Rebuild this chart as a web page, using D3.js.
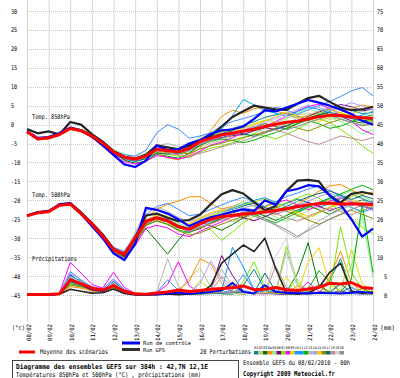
<!DOCTYPE html>
<html><head><meta charset="utf-8">
<script src="https://cdn.jsdelivr.net/npm/d3@7"></script>
<style>body{margin:0;background:#fff}svg{display:block}text{font-family:"DejaVu Sans Mono",monospace;fill:#000}</style>
</head><body><svg id="c" width="400" height="378"></svg>
<script>
const hours=[0,12,24,36,48,60,72,84,96,108,120,132,144,156,168,180,192,204,216,228,240,252,264,276,288,300,312,324,336,348,360,372,384];
const dates=["08/02","09/02","10/02","11/02","12/02","13/02","14/02","15/02","16/02","17/02","18/02","19/02","20/02","21/02","22/02","23/02","24/02"];
const leftTicks=[30,25,20,15,10,5,0,-5,-10,-15,-20,-25,-30,-35,-40,-45];
const rightTicks=[75,70,65,60,55,50,45,40,35,30,25,20,15,10,5,0];
const memberNames=["01","02","03","04","05","06","07","08","09","10","11","12","13","14","15","16","17","18","19","20"];
const memberColors=["#008c8c","#c8c878","#007800","#ff8c00","#90ee90","#800080","#78e600","#ff00ff","#c8e600","#3c8cff","#00a0ff","#00b400","#b4b4b4","#a0a0ff","#ffc800","#8c8c00","#006e6e","#c08c8c","#d4d4d4","#8c8ca0"];

const t850Mean=[-1.9,-3.8,-3.5,-2.6,-1.0,-1.6,-3.0,-4.9,-7.2,-8.6,-9.1,-8.3,-6.5,-6.9,-7.2,-6.3,-4.5,-3.6,-2.7,-2.3,-1.7,-1.2,-0.5,0.1,0.6,0.9,1.5,2.1,2.5,2.4,2.0,1.8,1.7];
const t850Ctrl=[-1.8,-3.5,-3.3,-2.2,-0.8,-1.5,-3.2,-5.5,-8.0,-10.5,-11.2,-9.5,-5.5,-6.8,-6.5,-5.0,-4.1,-2.5,-1.5,-1.3,-0.5,1.5,3.8,3.5,4.5,5.5,6.5,5.8,5.0,4.0,2.8,1.0,0.0];
const t850Gfs=[-1.2,-2.3,-1.8,-2.6,0.7,0.0,-2.5,-4.5,-7.0,-8.5,-9.0,-8.0,-5.5,-6.0,-6.5,-5.5,-4.5,-3.0,-0.5,2.0,3.5,5.0,4.5,4.0,3.9,5.5,7.0,7.6,6.0,4.5,3.8,4.0,4.7];
const t850Members=[
[-1.8,-3.6,-3.4,-2.4,-0.8,-1.4,-2.8,-4.6,-7.0,-8.8,-9.6,-8.9,-7.2,-7.5,-6.8,-5.9,-4.0,-3.1,-1.8,-1.0,-0.2,0.8,1.9,2.6,3.1,2.2,1.5,2.8,3.9,4.6,3.8,2.9,3.4],
[-2.0,-3.9,-3.7,-2.9,-1.3,-1.9,-3.3,-5.3,-7.6,-9.0,-9.3,-8.0,-6.0,-6.2,-7.9,-7.4,-5.8,-4.9,-4.1,-3.2,-2.4,-1.8,-0.9,0.4,1.7,2.5,3.0,2.2,1.4,2.0,2.9,3.6,2.8],
[-1.9,-3.7,-3.3,-2.5,-0.9,-1.5,-3.1,-5.0,-7.4,-9.4,-10.2,-9.6,-7.8,-8.4,-8.9,-7.6,-5.5,-4.2,-3.5,-2.8,-1.6,-0.4,0.3,-0.5,-1.2,0.2,1.3,2.4,3.2,2.1,1.0,0.4,1.2],
[-2.1,-4.0,-3.8,-2.8,-1.2,-1.7,-2.9,-4.7,-6.8,-8.2,-8.9,-8.7,-7.6,-8.8,-9.3,-8.1,-6.3,-1.5,2.2,3.8,3.0,4.2,4.5,3.6,2.8,1.7,2.3,3.5,4.1,3.2,4.3,5.2,4.6],
[-1.7,-3.6,-3.2,-2.3,-0.7,-1.2,-2.6,-4.4,-6.6,-7.8,-8.4,-7.5,-5.8,-6.0,-6.4,-5.2,-3.3,-2.0,-1.5,-2.2,-3.0,-2.3,-1.0,0.5,1.6,3.0,4.2,3.1,1.8,0.9,-0.6,-2.5,-1.4],
[-2.0,-3.9,-3.6,-2.7,-1.1,-1.8,-3.4,-5.4,-7.8,-9.2,-9.5,-8.5,-6.6,-7.0,-6.6,-5.6,-4.3,-3.8,-3.4,-2.9,-2.6,-1.6,-0.8,-1.3,-0.4,1.1,2.1,3.3,4.4,5.3,4.7,3.6,4.1],
[-1.9,-3.8,-3.5,-2.6,-1.0,-1.6,-3.2,-5.2,-7.5,-8.9,-9.4,-8.8,-7.4,-7.9,-8.3,-8.7,-7.3,-6.2,-5.6,-4.8,-3.6,-2.5,-2.9,-3.8,-2.6,-1.2,0.4,1.5,0.6,-1.3,-3.2,-5.6,-7.6],
[-2.1,-4.0,-3.7,-2.8,-1.2,-1.8,-3.3,-5.6,-8.2,-9.8,-10.4,-9.7,-8.2,-8.6,-9.1,-8.4,-7.0,-5.4,-4.6,-3.5,-2.0,-1.3,-0.4,0.8,2.2,3.6,4.8,5.4,4.2,2.6,0.9,-1.4,-2.6],
[-1.8,-3.7,-3.4,-2.5,-0.9,-1.5,-2.9,-4.8,-7.1,-8.5,-9.0,-8.2,-6.4,-6.8,-7.1,-6.2,-4.6,-3.0,-1.9,-1.4,-0.9,0.3,1.2,0.6,-0.2,0.7,1.9,3.0,4.0,3.1,2.4,1.6,0.8],
[-1.8,-3.7,-3.3,-2.4,-0.8,-1.3,-2.7,-4.5,-6.9,-8.0,-8.3,-6.8,-2.2,0.0,-1.2,-3.6,-3.0,-2.2,-0.3,0.8,1.6,2.4,3.4,4.6,3.8,2.7,3.9,5.0,6.1,7.4,8.9,9.8,7.6],
[-2.0,-3.9,-3.6,-2.6,-1.0,-1.7,-3.1,-5.1,-7.4,-9.1,-9.8,-9.0,-7.0,-6.5,-7.2,-6.8,-4.9,-2.9,-1.2,2.4,6.6,5.2,3.7,3.0,2.2,3.4,4.6,4.0,3.1,2.3,1.7,2.5,3.3],
[-1.9,-3.8,-3.6,-2.7,-1.1,-1.7,-3.2,-5.1,-7.3,-8.8,-9.2,-8.4,-6.9,-7.4,-7.8,-7.0,-5.4,-4.4,-3.8,-4.2,-4.8,-4.1,-3.0,-2.1,-0.9,0.3,1.1,0.2,-1.0,-0.4,0.7,1.9,2.6],
[-1.8,-3.7,-3.4,-2.4,-0.9,-1.4,-2.9,-4.7,-6.9,-8.3,-8.8,-7.8,-5.6,-5.0,-5.8,-6.1,-5.0,-4.1,-2.6,-1.2,-0.4,-1.1,-2.0,-1.0,0.4,1.6,2.5,3.6,4.5,3.8,2.8,2.0,1.4],
[-2.0,-3.8,-3.5,-2.6,-1.0,-1.6,-3.0,-4.9,-7.2,-8.7,-9.3,-8.6,-6.8,-7.1,-7.6,-6.9,-5.1,-4.0,-3.1,-2.4,-1.5,-0.6,0.9,1.8,2.9,4.0,5.1,4.5,3.6,4.7,5.8,4.9,3.8],
[-1.9,-3.8,-3.4,-2.5,-0.9,-1.5,-2.9,-4.9,-7.3,-8.9,-9.6,-8.8,-7.1,-7.6,-7.0,-5.7,-3.8,-2.4,-1.6,-1.8,-1.0,-0.1,1.0,2.2,3.3,2.4,1.6,0.8,1.9,3.0,2.1,1.3,0.5],
[-2.0,-3.9,-3.7,-2.8,-1.2,-1.8,-3.2,-5.0,-7.0,-8.4,-8.9,-8.1,-6.4,-6.7,-7.3,-7.7,-6.4,-5.6,-4.9,-4.1,-3.4,-2.7,-1.9,-1.0,-0.2,-0.9,-1.7,-0.6,0.5,1.4,0.6,-0.3,0.2],
[-1.9,-3.7,-3.4,-2.5,-0.9,-1.5,-3.0,-5.0,-7.5,-9.0,-9.6,-9.0,-7.5,-7.8,-7.5,-6.3,-4.2,-3.2,-2.3,-1.7,-2.4,-3.1,-2.2,-1.1,-0.3,0.8,1.7,2.6,3.4,2.5,1.6,0.9,1.5],
[-2.0,-3.9,-3.6,-2.7,-1.1,-1.7,-3.1,-5.0,-7.4,-9.0,-9.4,-8.7,-7.0,-7.4,-8.0,-8.4,-7.6,-6.8,-5.9,-5.1,-4.3,-3.3,-2.1,-1.4,-2.3,-3.4,-4.5,-5.2,-4.1,-3.0,-3.6,-4.2,-3.4],
[-1.9,-3.8,-3.5,-2.5,-0.9,-1.5,-3.0,-4.8,-7.0,-8.3,-8.6,-7.6,-5.9,-6.3,-6.9,-6.4,-4.8,-3.9,-2.9,-2.0,-1.1,-0.3,0.5,1.4,2.3,1.5,0.7,1.8,2.9,3.7,4.5,3.6,2.7],
[-1.9,-3.7,-3.4,-2.6,-1.0,-1.5,-3.1,-5.0,-7.3,-8.7,-9.1,-8.3,-6.5,-6.9,-7.4,-6.7,-5.2,-4.3,-3.6,-2.8,-1.8,-0.8,0.2,-0.6,-1.4,-0.5,0.6,1.4,2.3,1.5,0.6,-0.2,0.9]
];

const t500Mean=[-24.1,-23.3,-23.0,-21.3,-21.0,-23.5,-26.2,-29.4,-33.0,-34.2,-30.0,-25.5,-24.6,-25.4,-27.0,-27.6,-26.2,-25.0,-24.3,-24.0,-23.6,-23.4,-23.1,-22.7,-22.2,-21.7,-21.2,-20.8,-20.7,-21.0,-20.9,-21.0,-21.1];
const t500Ctrl=[-24.0,-23.2,-22.9,-21.0,-20.8,-23.6,-26.8,-30.0,-34.0,-35.8,-31.5,-22.0,-22.5,-23.5,-25.0,-26.8,-25.5,-24.5,-23.8,-23.0,-22.4,-22.8,-20.0,-21.2,-17.6,-17.0,-16.0,-16.3,-18.6,-21.2,-25.0,-29.6,-27.5];
const t500Gfs=[-24.0,-23.1,-22.8,-21.2,-20.7,-23.2,-26.0,-29.0,-32.8,-34.5,-30.0,-24.0,-23.5,-24.6,-25.5,-25.2,-23.8,-21.0,-18.4,-17.3,-18.2,-20.5,-22.6,-21.5,-17.5,-14.8,-14.6,-15.0,-18.8,-20.6,-18.3,-17.8,-18.4];
const t500Members=[
[-24.0,-23.2,-22.9,-21.2,-20.9,-23.4,-26.3,-29.6,-33.4,-34.8,-31.0,-26.0,-23.8,-24.9,-26.8,-27.9,-26.4,-24.7,-23.6,-22.4,-21.9,-22.6,-23.4,-22.0,-20.8,-19.7,-20.6,-21.8,-20.9,-19.6,-18.4,-19.5,-20.8],
[-24.2,-23.4,-23.1,-21.4,-21.1,-23.7,-26.5,-29.8,-33.6,-35.2,-31.8,-26.8,-25.3,-26.1,-27.5,-26.6,-24.9,-23.8,-24.5,-25.6,-24.8,-23.7,-22.5,-21.6,-22.4,-23.3,-22.1,-20.9,-19.8,-20.7,-21.9,-22.8,-21.7],
[-24.1,-23.3,-23.0,-21.3,-21.0,-23.5,-26.1,-29.2,-32.7,-34.0,-30.2,-27.5,-30.8,-34.2,-30.5,-27.3,-25.6,-26.8,-27.9,-26.4,-24.6,-23.2,-24.1,-25.3,-24.0,-22.6,-21.4,-22.5,-23.7,-22.2,-20.8,-19.9,-21.2],
[-24.0,-23.1,-22.8,-21.1,-20.8,-23.3,-26.0,-29.1,-32.5,-33.6,-29.0,-24.5,-22.4,-21.0,-20.2,-19.1,-19.0,-20.8,-22.3,-21.6,-20.4,-21.5,-22.9,-23.8,-22.5,-21.0,-19.4,-17.6,-16.2,-15.8,-17.3,-18.5,-17.8],
[-24.1,-23.2,-22.9,-21.2,-20.9,-23.4,-26.2,-29.4,-33.1,-34.4,-30.4,-25.1,-24.0,-24.7,-26.2,-27.3,-25.8,-24.3,-23.0,-21.8,-20.5,-21.7,-23.0,-24.4,-25.6,-24.2,-22.8,-21.3,-19.8,-18.6,-17.5,-18.9,-20.4],
[-24.2,-23.3,-23.1,-21.4,-21.1,-23.6,-26.4,-29.7,-33.5,-35.0,-31.3,-26.2,-24.8,-25.6,-27.1,-28.3,-27.5,-26.0,-24.8,-23.7,-24.6,-25.4,-24.3,-23.1,-22.0,-21.3,-20.5,-21.6,-22.7,-21.8,-20.7,-21.5,-22.4],
[-24.1,-23.2,-23.0,-21.3,-21.0,-23.5,-26.2,-29.4,-33.0,-34.2,-30.3,-25.4,-24.2,-25.1,-26.5,-27.8,-26.9,-27.8,-30.6,-28.4,-25.9,-24.2,-23.0,-21.9,-20.6,-19.4,-18.3,-19.5,-21.0,-22.6,-24.8,-27.1,-28.9],
[-24.2,-23.4,-23.1,-21.5,-21.2,-23.8,-26.7,-30.0,-33.8,-35.3,-32.0,-27.4,-26.6,-27.3,-28.9,-29.6,-28.2,-26.9,-25.7,-24.3,-23.1,-22.6,-21.7,-20.6,-19.9,-21.2,-22.5,-21.4,-20.2,-19.3,-20.5,-21.8,-20.6],
[-24.0,-23.1,-22.9,-21.2,-20.9,-23.3,-26.0,-29.1,-32.8,-34.1,-30.1,-25.2,-24.1,-24.4,-25.5,-26.6,-25.4,-24.1,-22.9,-22.0,-21.3,-20.4,-19.6,-20.8,-22.1,-23.6,-24.8,-23.4,-21.9,-20.4,-19.1,-17.9,-18.6],
[-24.0,-23.1,-22.8,-21.0,-20.7,-23.1,-25.8,-28.8,-32.4,-33.5,-29.2,-23.8,-21.6,-20.8,-22.4,-24.1,-23.6,-22.4,-21.2,-20.1,-19.2,-20.3,-21.6,-20.4,-19.0,-18.1,-17.0,-16.2,-17.4,-18.9,-20.3,-21.4,-20.1],
[-24.1,-23.2,-23.0,-21.3,-21.0,-23.5,-26.3,-29.5,-33.2,-34.6,-30.7,-25.6,-24.5,-25.3,-26.7,-27.5,-26.0,-24.6,-23.3,-22.1,-21.0,-20.0,-19.3,-20.5,-21.8,-22.9,-21.7,-20.5,-19.4,-20.6,-21.9,-23.1,-22.2],
[-24.2,-23.3,-23.0,-21.4,-21.1,-23.6,-26.4,-29.6,-33.3,-34.7,-31.0,-26.4,-25.5,-26.3,-27.8,-28.6,-27.2,-25.9,-24.7,-23.4,-22.3,-23.6,-24.9,-26.0,-24.6,-23.2,-21.8,-20.6,-19.5,-18.3,-17.1,-16.0,-17.2],
[-24.0,-23.1,-22.9,-21.2,-20.9,-23.3,-26.1,-29.3,-33.0,-34.3,-28.5,-22.8,-21.7,-22.9,-24.5,-25.7,-24.6,-23.6,-22.7,-21.9,-22.8,-23.9,-25.0,-26.7,-28.4,-30.0,-27.5,-25.4,-23.8,-22.5,-21.3,-20.6,-21.5],
[-24.1,-23.2,-22.9,-21.2,-20.9,-23.4,-26.3,-29.5,-33.2,-34.5,-30.6,-25.8,-24.6,-25.5,-27.0,-28.2,-27.0,-25.7,-24.3,-23.1,-22.0,-21.2,-22.4,-23.6,-22.7,-21.5,-20.2,-19.0,-18.1,-19.2,-20.4,-21.6,-22.7],
[-24.0,-23.2,-22.9,-21.2,-20.9,-23.4,-26.2,-29.4,-33.1,-34.4,-30.5,-25.5,-23.9,-24.2,-25.6,-26.2,-24.7,-23.2,-22.5,-23.4,-24.3,-23.0,-21.8,-20.7,-21.9,-23.1,-24.2,-23.0,-21.8,-20.9,-19.8,-20.9,-22.0],
[-24.2,-23.3,-23.1,-21.4,-21.1,-23.7,-26.5,-29.8,-33.6,-35.1,-31.4,-26.6,-25.4,-26.4,-28.0,-29.2,-28.6,-27.4,-26.3,-25.2,-24.2,-23.3,-22.5,-21.8,-22.9,-24.0,-25.2,-26.3,-25.0,-23.8,-22.6,-23.7,-24.8],
[-24.1,-23.2,-23.0,-21.3,-21.0,-23.5,-26.3,-29.5,-33.1,-34.4,-30.4,-25.3,-24.4,-25.2,-26.6,-27.6,-26.2,-24.9,-23.7,-22.6,-21.5,-20.7,-21.9,-22.8,-21.6,-20.3,-19.1,-18.2,-17.5,-18.6,-19.8,-18.7,-19.6],
[-24.1,-23.3,-23.0,-21.3,-21.0,-23.5,-26.3,-29.6,-33.3,-34.7,-30.9,-26.1,-25.0,-25.8,-27.2,-28.1,-27.1,-26.2,-25.2,-24.5,-23.9,-23.2,-22.4,-23.5,-24.6,-25.5,-24.3,-23.1,-22.0,-22.9,-23.8,-22.7,-21.6],
[-24.0,-23.1,-22.9,-21.2,-20.9,-23.3,-26.1,-29.2,-32.9,-34.2,-30.2,-25.4,-24.2,-24.8,-26.0,-26.9,-25.6,-24.4,-23.4,-22.6,-21.8,-22.7,-23.6,-22.4,-21.3,-20.2,-21.1,-22.0,-23.0,-22.0,-21.0,-20.1,-21.0],
[-24.1,-23.2,-23.0,-21.3,-21.0,-23.5,-26.3,-29.5,-33.2,-34.5,-30.6,-25.7,-24.5,-25.3,-26.8,-27.7,-26.5,-25.4,-24.6,-23.8,-23.1,-24.2,-25.3,-26.4,-27.8,-29.5,-28.0,-26.5,-24.9,-23.6,-22.4,-21.3,-22.1]
];

const precipMean=[0.1,0.1,0.1,0.3,4.0,3.0,1.8,1.3,2.5,1.0,0.3,0.2,0.5,0.8,1.3,0.9,1.2,1.5,1.7,1.9,2.4,1.4,1.5,2.0,1.4,1.2,1.6,2.0,3.1,2.9,3.3,2.0,1.7];
const precipCtrl=[0,0,0,0.3,3.8,2.8,1.5,1.0,2.5,0.8,0.2,0.1,0.2,0.4,0.6,0.3,0.5,0.8,1.2,3.2,0.8,0.4,2.6,0.8,0.6,0.5,0.4,0.6,0.5,0.4,0.6,0.8,0.5];
const precipGfs=[0,0,0,0.2,1.5,1.0,0.5,0.6,1.6,0.4,0,0,0.1,0.3,0.1,0.3,0.5,2.5,8.4,10.8,13.2,11.5,15.0,7.0,0.5,0.2,0.5,2.0,6.0,8.4,1.0,0.5,0.8];
const precipMembers=[
[0,0,0,0.3,3.5,2.4,1.2,0.8,2.0,0.6,0.1,0,0.2,0.4,0.3,0.1,0.5,0.8,0.3,0.2,2.5,6.8,1.4,0.3,0.2,0.4,1.0,0.5,3.8,9.6,1.2,0.4,0.6],
[0,0,0,0.2,2.8,2.0,1.6,1.0,2.4,0.8,0.2,0.1,0.1,0.2,0.8,4.5,7.2,2.0,0.4,0.3,0.2,0.6,0.4,0.3,1.5,0.6,0.2,0.3,0.8,0.5,2.2,0.8,0.3],
[0,0,0,0.4,4.6,3.8,2.0,1.4,3.0,1.2,0.3,0.2,0.5,1.0,0.6,0.3,0.2,0.4,1.2,2.6,0.8,0.3,0.5,0.4,0.9,5.6,13.8,2.4,0.6,0.4,0.3,1.8,0.5],
[0,0,0,0.1,2.2,1.8,1.0,0.7,1.6,0.5,0.1,0,0.1,0.2,1.4,3.6,9.5,8.2,3.1,1.0,0.6,0.4,0.3,0.7,0.5,2.4,1.2,0.5,4.5,11.6,3.2,0.8,0.4],
[0,0,0,0.2,3.2,2.6,1.8,1.2,2.8,1.0,0.4,0.2,0.3,0.6,0.4,0.2,0.3,0.5,0.8,0.6,0.4,0.3,1.9,0.6,0.8,4.2,1.0,0.3,0.5,2.8,7.5,21.0,4.6],
[0,0,0,0.3,5.4,3.2,1.8,1.0,3.6,1.4,0.2,0.1,0.2,0.3,0.5,0.4,0.6,1.2,10.4,5.2,1.0,0.5,0.4,0.3,0.2,0.5,0.8,0.4,0.6,1.0,0.5,0.3,0.2],
[0,0,0,0.2,3.6,2.9,1.5,1.1,2.6,0.9,0.3,0.1,0.2,0.4,0.6,0.5,0.8,0.6,0.4,0.5,3.5,8.8,2.0,0.6,13.0,3.4,0.8,0.6,1.2,18.0,6.0,1.4,0.8],
[0,0,0,0.5,8.6,5.8,2.8,1.8,6.0,2.0,0.4,0.3,0.6,2.8,8.8,2.4,0.7,0.5,0.6,0.9,0.7,0.4,0.3,0.6,0.8,0.6,3.4,0.9,0.5,0.4,0.6,0.5,0.3],
[0,0,0,0.3,4.0,3.0,1.6,1.2,2.8,1.0,0.3,0.2,0.4,0.5,0.3,0.2,3.8,1.2,0.5,0.4,0.3,0.6,0.5,1.0,4.6,1.4,0.6,0.4,0.3,0.5,12.0,3.0,0.9],
[0,0,0,0.4,6.2,4.0,2.2,1.6,4.2,1.5,0.4,0.3,0.7,4.0,1.2,0.5,0.4,0.3,0.6,1.4,5.4,1.5,0.6,1.0,1.8,0.5,0.3,0.6,0.4,0.8,2.0,0.5,0.4],
[0,0,0,0.3,5.0,3.6,2.0,1.3,3.4,1.3,0.3,0.2,0.4,0.6,0.4,0.3,0.5,0.7,1.0,12.6,7.4,1.5,0.6,0.4,0.5,1.5,0.6,0.4,0.3,0.6,0.4,0.2,0.3],
[0,0,0,0.2,3.0,2.4,1.4,1.0,2.2,0.8,0.2,0.1,0.2,0.3,0.4,0.3,0.4,0.6,0.5,0.7,0.6,0.5,0.8,0.6,0.4,0.7,1.6,6.4,3.6,0.8,4.2,24.0,6.0],
[0,0,0,0.3,4.2,3.4,1.8,1.2,3.2,1.2,0.3,0.2,0.8,9.6,2.2,0.5,0.6,1.6,6.8,2.4,0.8,0.6,0.4,0.5,11.5,2.8,0.6,0.5,0.4,0.3,0.6,0.4,0.3],
[0,0,0,0.4,5.8,3.9,2.2,1.5,4.0,1.3,0.3,0.2,0.3,0.5,0.7,0.6,3.0,9.0,4.2,1.0,0.6,0.4,0.5,0.3,0.6,0.5,0.3,0.5,0.8,0.6,0.4,0.3,0.2],
[0,0,0,0.2,3.4,2.6,1.6,1.1,2.5,0.9,0.2,0.1,0.2,0.4,0.5,0.4,0.6,0.8,0.5,3.6,1.0,0.4,0.6,0.5,0.3,0.6,8.6,12.5,2.8,0.6,0.4,0.5,0.3],
[0,0,0,0.2,2.6,2.2,1.3,0.9,2.0,0.7,0.2,0.1,0.1,0.2,0.3,0.2,0.5,0.4,0.6,0.5,0.3,0.5,0.4,0.6,0.5,0.3,0.6,2.8,0.7,0.5,0.6,0.4,0.3],
[0,0,0,0.3,4.4,3.2,1.7,1.2,3.0,1.1,0.3,0.2,0.3,0.5,0.6,0.4,0.5,0.6,0.4,0.5,0.8,0.6,5.8,0.9,0.5,0.4,0.6,0.5,0.7,3.0,0.6,0.4,0.3],
[0,0,0,0.2,3.8,2.8,1.6,1.1,2.7,1.0,0.2,0.1,0.3,0.6,0.5,0.4,0.6,1.0,4.8,2.2,0.6,0.4,0.5,7.6,2.0,0.6,0.4,0.5,0.6,0.4,0.5,0.3,0.4],
[0,0,0,0.3,4.8,3.4,1.9,1.3,3.2,1.1,0.3,0.2,0.4,0.5,0.4,0.3,0.7,0.9,0.6,0.5,0.4,0.7,0.5,10.2,15.0,1.6,0.5,0.4,0.3,0.6,0.5,0.4,0.3],
[0,0,0,0.2,3.4,2.6,1.5,1.0,2.4,0.9,0.2,0.1,0.2,0.3,0.4,0.3,0.4,0.5,0.6,0.8,1.2,0.6,0.4,0.6,0.5,0.4,0.8,0.5,0.6,0.5,0.4,0.6,0.5]
];

const svg=d3.select("#c");
svg.append("rect").attr("width",400).attr("height",378).attr("fill","#fff");
const x=d3.scaleLinear().domain([0,384]).range([27,373]);
const y=d3.scaleLinear().domain([-45,30]).range([295,11]);
const yp=d3.scaleLinear().domain([0,75]).range([295,11]);

// grid
const g=svg.append("g");
g.selectAll("line.v").data(dates).enter().append("line")
 .attr("x1",(d,i)=>x(i*24)+0.5).attr("x2",(d,i)=>x(i*24)+0.5)
 .attr("y1",0).attr("y2",322).attr("stroke","#d6d6d6").attr("stroke-width",1);
g.selectAll("line.h").data(leftTicks).enter().append("line")
 .attr("x1",27).attr("x2",373).attr("y1",d=>Math.round(y(d))+0.5).attr("y2",d=>Math.round(y(d))+0.5)
 .attr("stroke","#c4c4c4").attr("stroke-width",1).attr("stroke-dasharray","1,1");

// axis labels
svg.selectAll("text.lt").data(leftTicks).enter().append("text")
 .attr("x",11).attr("y",d=>y(d)+2.5).attr("font-size",6.5)
 .attr("textLength",d=>String(d).length*3.1).attr("lengthAdjust","spacingAndGlyphs").text(d=>d);
svg.selectAll("text.rt").data(rightTicks).enter().append("text")
 .attr("x",d=>d<10?384:377).attr("y",d=>yp(d)+2.5).attr("font-size",6.5)
 .attr("textLength",d=>String(d).length*3.1).attr("lengthAdjust","spacingAndGlyphs").text(d=>d);
svg.selectAll("text.dt").data(dates).enter().append("text")
 .attr("transform",(d,i)=>`translate(${x(i*24)+3.5},341) rotate(-90)`)
 .attr("font-size",6).attr("textLength",17).attr("lengthAdjust","spacingAndGlyphs").text(d=>d);

function txt(s,xx,yy,len,opt={}){
  const t=svg.append("text").attr("x",xx).attr("y",yy).attr("font-size",opt.size||6.5)
   .attr("textLength",len).attr("lengthAdjust","spacingAndGlyphs").text(s);
  if(opt.bold) t.attr("font-weight","bold");
  return t;
}
txt("(°c)",12,330,13);
txt("(mm)",380,330,15);
txt("Temp. 850hPa",32,118.5,38);
txt("Temp. 500hPa",32,197,38);
txt("Précipitations",32,261,45);

// series
const lineT=d3.line().x((d,i)=>x(hours[i])).y(d=>y(d));
const lineP=d3.line().x((d,i)=>x(hours[i])).y(d=>yp(d));
const mg=svg.append("g").attr("fill","none").attr("stroke-width",1);
[t850Members,t500Members].forEach(arr=>arr.forEach((m,k)=>{
  mg.append("path").attr("d",lineT(m)).attr("stroke",memberColors[k]);
}));
precipMembers.forEach((m,k)=>mg.append("path").attr("d",lineP(m)).attr("stroke",memberColors[k]));

const kg=svg.append("g").attr("fill","none").attr("stroke-linejoin","round");
[t850Gfs,t500Gfs].forEach(s=>kg.append("path").attr("d",lineT(s)).attr("stroke","#262626").attr("stroke-width",2.2));
kg.append("path").attr("d",lineP(precipGfs)).attr("stroke","#262626").attr("stroke-width",1.6);
[t850Ctrl,t500Ctrl].forEach(s=>kg.append("path").attr("d",lineT(s)).attr("stroke","#0000ff").attr("stroke-width",2.2));
kg.append("path").attr("d",lineP(precipCtrl)).attr("stroke","#0000ff").attr("stroke-width",1.8);
[t850Mean,t500Mean].forEach(s=>kg.append("path").attr("d",lineT(s)).attr("stroke","#ff0000").attr("stroke-width",3));
kg.append("path").attr("d",lineP(precipMean)).attr("stroke","#ff0000").attr("stroke-width",3);

// legend
svg.append("line").attr("x1",19).attr("x2",35).attr("y1",352).attr("y2",352).attr("stroke","#ff0000").attr("stroke-width",3);
txt("Moyenne des scénarios",40,354,68);
svg.append("line").attr("x1",122).attr("x2",140).attr("y1",343).attr("y2",343).attr("stroke","#0000ff").attr("stroke-width",3);
txt("Run de contrôle",143,345.2,48,{size:5.4});
svg.append("line").attr("x1",122).attr("x2",140).attr("y1",349.5).attr("y2",349.5).attr("stroke","#333").attr("stroke-width",3);
txt("Run GFS",143,352,22,{size:5.4});
txt("20 Perturbations",200,354,51);
const lg=svg.append("g");
memberNames.forEach((n,i)=>{
  lg.append("rect").attr("x",254+i*4.5).attr("y",351).attr("width",4.5).attr("height",3.5).attr("fill",memberColors[i]);
  lg.append("text").attr("x",254.2+i*4.5).attr("y",348.5).attr("font-size",3.6).attr("textLength",4).attr("lengthAdjust","spacingAndGlyphs").text(n);
});

// footer
svg.append("rect").attr("x",12.5).attr("y",360.5).attr("width",226).attr("height",24).attr("fill","none").attr("stroke","#444");
txt("Diagramme des ensembles GEFS sur 384h : 42,7N 12,1E",16,368.5,192,{bold:true,size:6.8});
txt("Températures 850hPa et 500hPa (°C) , précipitations (mm)",16,377,185);
txt("Ensemble GEFS du 08/02/2010 - 00h",243,365,107);
txt("Copyright 2009 Meteociel.fr",243,376,92,{bold:true,size:6.8});
</script></body></html>
